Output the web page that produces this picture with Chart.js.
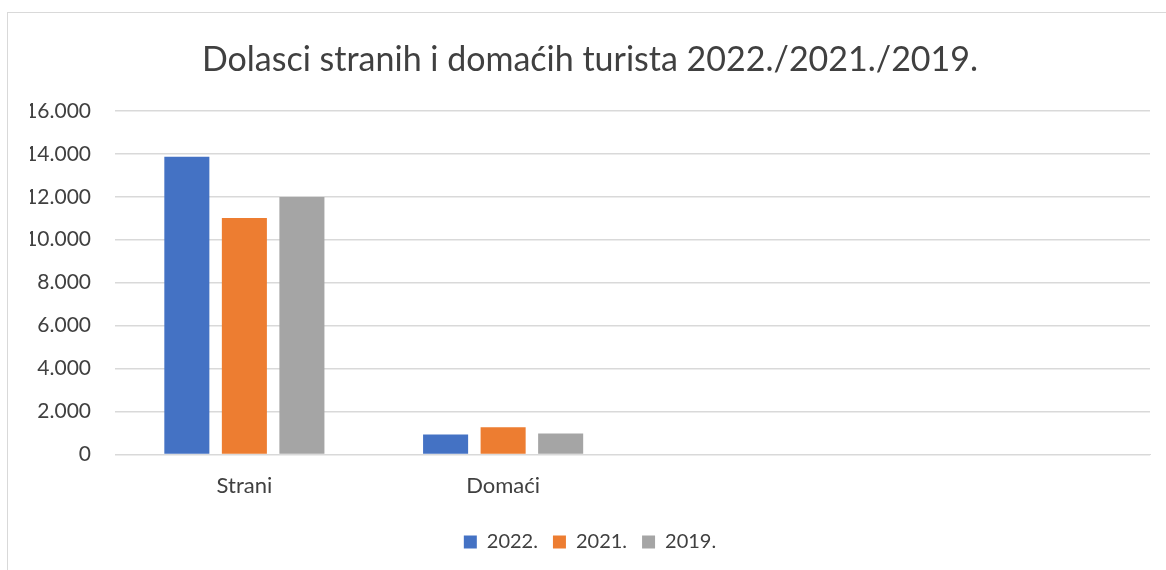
<!DOCTYPE html>
<html>
<head>
<meta charset="utf-8">
<script src="https://cdn.jsdelivr.net/npm/chart.js@4/dist/chart.umd.min.js"></script>
<style>
  body { margin: 0; background: #fff; }
  #frame { position: absolute; left: 7px; top: 12px; width: 1200px; height: 600px;
           border-left: 1px solid #d9d9d9; border-top: 1px solid #d9d9d9; }
  #c { position: absolute; left: 0; top: 0; }
</style>
</head>
<body>
<div id="frame"></div>
<canvas id="c" width="1166" height="570"></canvas>
<script>
// data
var categories = ["Strani", "Domaći", "", ""];
var years = ["2022.", "2021.", "2019."];
var v2022 = [13860, 930, null, null];
var v2021 = [11010, 1270, null, null];
var v2019 = [11990, 980, null, null];
var colors = ["#4472C4", "#ED7D31", "#A5A5A5"];

function fmt(v) {
    return String(v).replace(/\B(?=(\d{3})+(?!\d))/g, ".");
}

var textColor = "#404040";
Chart.defaults.font.family = "Lato, 'Open Sans', sans-serif";
Chart.defaults.color = textColor;

var ctx = document.getElementById("c");
new Chart(ctx, {
    type: "bar",
    data: {
        labels: categories,
        datasets: [v2022, v2021, v2019].map(function (d, i) {
            return {
                label: years[i],
                data: d,
                backgroundColor: colors[i],
                borderWidth: 0,
                barPercentage: 0.783,
                categoryPercentage: 0.667
            };
        })
    },
    options: {
        responsive: false,
        animation: false,
        layout: { padding: { left: 30, right: 16, top: 0, bottom: 8 } },
        plugins: {
            title: {
                display: true,
                text: "Dolasci stranih i domaćih turista 2022./2021./2019.",
                font: { size: 34, weight: "normal" },
                color: textColor,
                padding: { top: 40, bottom: 30 }
            },
            legend: {
                position: "bottom",
                labels: {
                    boxWidth: 13,
                    boxHeight: 13,
                    padding: 15,
                    font: { size: 20 },
                    color: textColor
                }
            },
            tooltip: { enabled: false }
        },
        scales: {
            x: {
                grid: { display: false, drawTicks: false },
                border: { color: "#d9d9d9" },
                ticks: { padding: 18, font: { size: 22 }, color: textColor }
            },
            y: {
                min: 0,
                max: 16000,
                afterFit: function (scale) { scale.width = 85; },
                grid: { color: "#d9d9d9", lineWidth: 1.5, drawTicks: false },
                border: { display: false },
                ticks: {
                    stepSize: 2000,
                    padding: 24,
                    font: { size: 21 },
                    color: textColor,
                    callback: function (v) { return fmt(v); }
                }
            }
        }
    }
});
</script>
</body>
</html>
